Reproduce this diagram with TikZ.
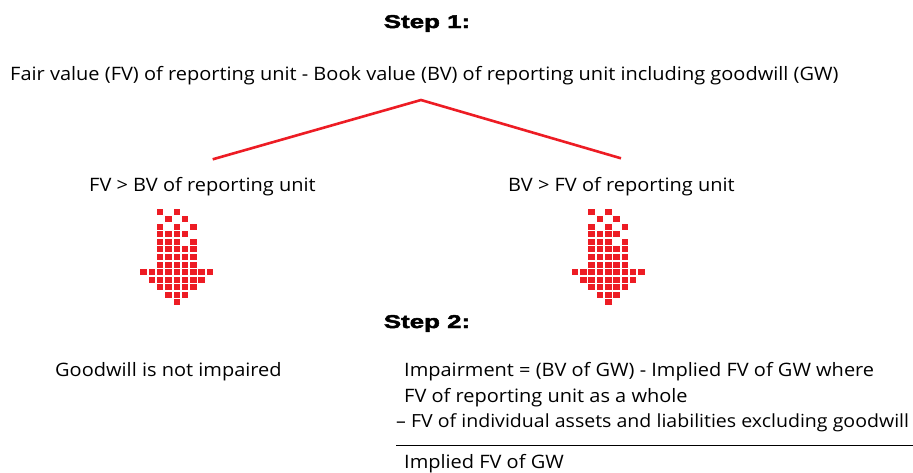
\documentclass[tikz,border=0pt]{standalone}
\usepackage{fontspec}
\setmainfont[FakeStretch=1.08]{Open Sans}
\newfontfamily\stepfont[FakeBold=2.5,FakeStretch=1.4]{Liberation Sans Bold}
\definecolor{arrowred}{HTML}{ED1C24}
\tikzset{
  txt/.style={anchor=base west, inner sep=0pt, font=\fontsize{18.5}{22}\selectfont},
  steptxt/.style={anchor=base, inner sep=0pt, font=\stepfont\fontsize{18.5}{20}\selectfont},
  pix/.style={fill=arrowred, draw=none},
  branch/.style={draw=arrowred, line width=2.6pt},
  rule/.style={draw=black, line width=0.6pt}
}
\newcommand{\pixarrow}[2]{%
  \foreach \r/\cols in {0/{2,4},1/{3,5},2/{2,4,6},3/{2,3,4,5},4/{2,3,4,6},5/{2,3,4,5,6},6/{2,3,4,5,6},7/{2,3,4,5,6},8/{0,1,2,3,4,5,6,7,8},9/{1,2,3,4,5,6,7},10/{2,3,4,5,6},11/{3,4,5},12/{4}}{%
    \foreach \c in \cols {%
      \path[pix] ({#1+(\c-4)*8.33-3.2},{#2+\r*7.55-3.0}) rectangle ++(6.4,6.0);
    }%
  }%
}
\begin{document}
\begin{tikzpicture}[x=1pt,y=-1pt]
\useasboundingbox[fill=white] (0,0) rectangle (913,472);
\node[steptxt] (s1) at (427,28) {Step 1:};
\node[txt] (top) at (10,80.7) {Fair value (FV) of reporting unit - Book value (BV) of reporting unit including goodwill (GW)};
\coordinate (apex) at (421,100);
\coordinate (lend) at (212.7,159.3);
\coordinate (rend) at (621,158.3);
\draw[branch] (lend) -- (apex) -- (rend);
\node[txt] (left) at (89,191) {FV > BV of reporting unit};
\node[txt] (right) at (508,191) {BV > FV of reporting unit};
\pixarrow{176.7}{211.7}
\pixarrow{608.3}{211.7}
\node[steptxt] (s2) at (427,328) {Step 2:};
\node[txt] (noimp) at (55,376.7) {Goodwill is not impaired};
\node[txt] (imp1) at (404,376.7) {Impairment = (BV of GW) - Implied FV of GW where};
\node[txt] (imp2) at (404,402.7) {FV of reporting unit as a whole};
\node[txt, font=\fontsize{18.1}{22}\selectfont] (imp3) at (396,427) {– FV of individual assets and liabilities excluding goodwill};
\coordinate (ra) at (396,445);
\coordinate (rb) at (913,445);
\draw[rule] (ra) -- (rb);
\node[txt] (imp4) at (404,468.5) {Implied FV of GW};
\end{tikzpicture}
\end{document}
